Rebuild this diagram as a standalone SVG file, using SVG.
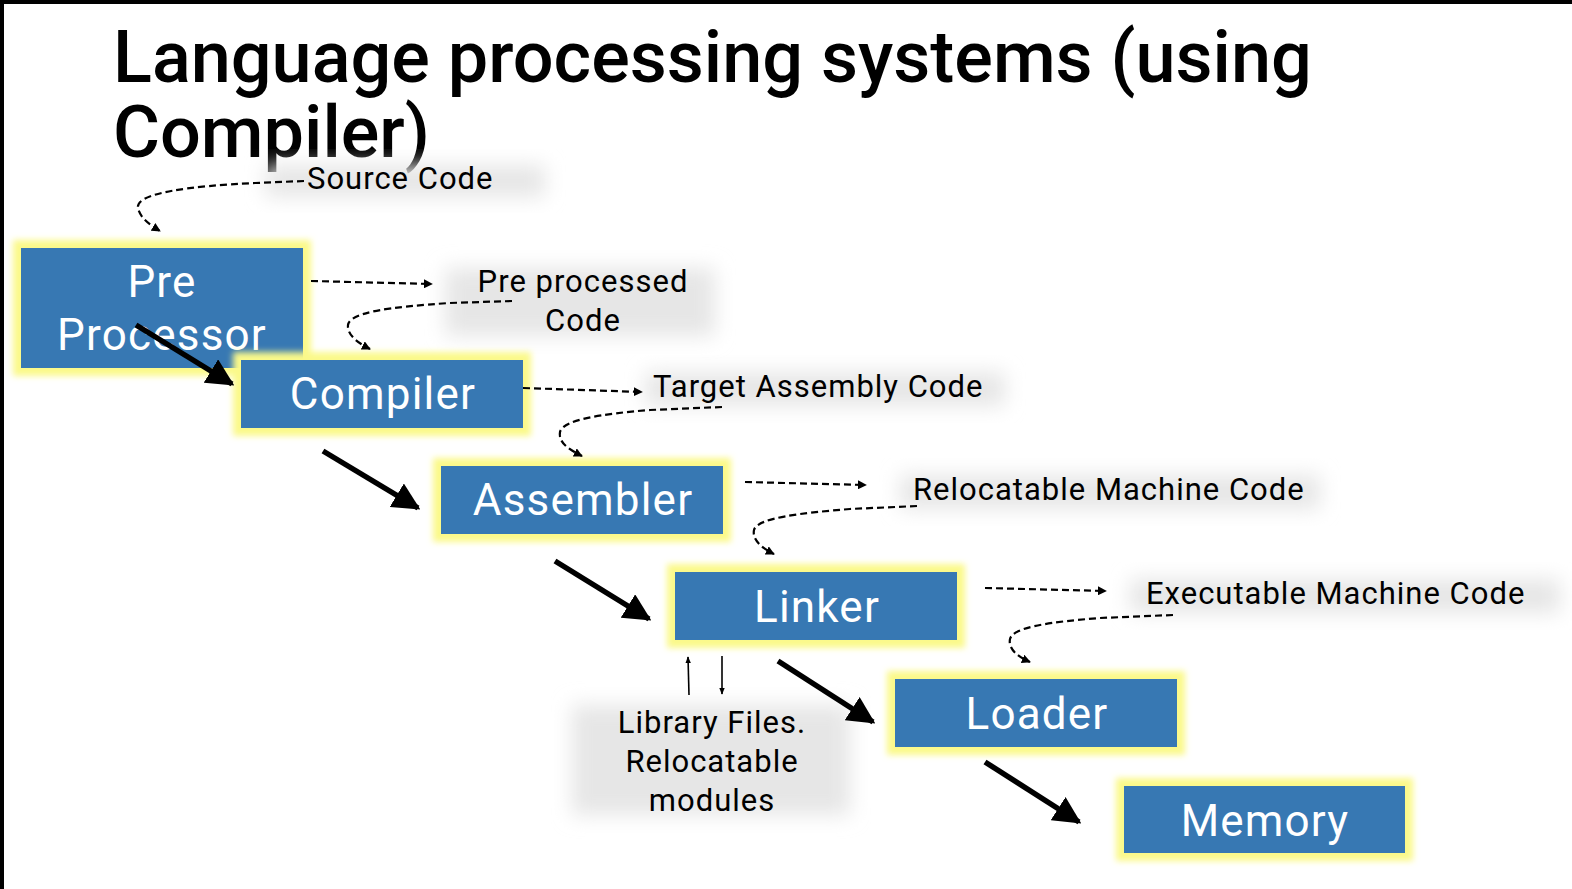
<svg xmlns="http://www.w3.org/2000/svg" width="1572" height="889" viewBox="0 0 1572 889">
<defs>
<filter id="glow" x="-20%" y="-40%" width="140%" height="180%"><feGaussianBlur stdDeviation="3"/></filter>
<filter id="shadow" x="-20%" y="-50%" width="140%" height="200%"><feGaussianBlur stdDeviation="10"/></filter>
<marker id="ah" viewBox="0 0 10 10" refX="9" refY="5" markerWidth="9" markerHeight="9" markerUnits="userSpaceOnUse" orient="auto"><path d="M0,0 L10,5 L0,10 z" fill="#000"/></marker>
<marker id="ahb" viewBox="0 0 10 10" refX="9" refY="5" markerWidth="5" markerHeight="5" orient="auto"><path d="M0,0 L10,5 L0,10 z" fill="#000"/></marker>
<marker id="aht" viewBox="0 0 10 10" refX="9" refY="5" markerWidth="7" markerHeight="9" markerUnits="userSpaceOnUse" orient="auto"><path d="M0,1 L10,5 L0,9 z" fill="#000"/></marker>
</defs>
<style>
.title{font-family:Roboto,"Liberation Sans",sans-serif;font-weight:500;font-size:72px;fill:#000}
.glow{fill:#fbf98a;filter:url(#glow)}
.box{fill:#3778b3}
.bt{font-family:Roboto,"Liberation Sans",sans-serif;font-size:44px;letter-spacing:1.2px;fill:#fff;text-anchor:middle}
.lbl{font-family:Roboto,"Liberation Sans",sans-serif;font-size:31px;letter-spacing:1px;fill:#000}
.shd{fill:#e6e6e6;filter:url(#shadow)}
.dash{fill:none;stroke:#000;stroke-width:2.2;stroke-dasharray:7 4;marker-end:url(#ah)}
.thick{fill:none;stroke:#000;stroke-width:5.5;marker-end:url(#ahb)}
.thin{fill:none;stroke:#000;stroke-width:1.6;marker-end:url(#aht)}
</style>
<rect width="1572" height="889" fill="#fff"/>
<rect x="0" y="0" width="1572" height="4" fill="#000"/>
<rect x="0" y="0" width="4" height="889" fill="#000"/>

<g id="title">
<text class="title" x="113" y="82">Language processing systems (using</text>
<text class="title" x="113" y="157">Compiler)</text>
</g>

<g id="label-shadows">
<rect class="shd" x="265" y="165" width="280" height="32"/>
<rect class="shd" x="445" y="268" width="270" height="68"/>
<rect class="shd" x="645" y="372" width="360" height="34"/>
<rect class="shd" x="900" y="475" width="420" height="34"/>
<rect class="shd" x="1130" y="579" width="430" height="34"/>
<rect class="shd" x="572" y="705" width="278" height="110"/>
</g>

<g id="node-preprocessor">
<rect class="glow" x="13" y="240" width="298" height="136"/>
<rect class="box" x="21" y="248" width="282" height="120"/>
<text class="bt" x="162" y="297">Pre</text>
<text class="bt" x="162" y="350">Processor</text>
</g>
<g id="node-compiler">
<rect class="glow" x="233" y="352" width="298" height="84"/>
<rect class="box" x="241" y="360" width="282" height="68"/>
<text class="bt" x="383" y="409">Compiler</text>
</g>
<g id="node-assembler">
<rect class="glow" x="433" y="458" width="298" height="84"/>
<rect class="box" x="441" y="466" width="282" height="68"/>
<text class="bt" x="583" y="515">Assembler</text>
</g>
<g id="node-linker">
<rect class="glow" x="667" y="564" width="298" height="84"/>
<rect class="box" x="675" y="572" width="282" height="68"/>
<text class="bt" x="817" y="622">Linker</text>
</g>
<g id="node-loader">
<rect class="glow" x="887" y="671" width="298" height="84"/>
<rect class="box" x="895" y="679" width="282" height="68"/>
<text class="bt" x="1037" y="729">Loader</text>
</g>
<g id="node-memory">
<rect class="glow" x="1116" y="778" width="297" height="83"/>
<rect class="box" x="1124" y="786" width="281" height="67"/>
<text class="bt" x="1265" y="836">Memory</text>
</g>

<g id="labels">
<text class="lbl" x="307" y="189">Source Code</text>
<text class="lbl" x="583" y="292" text-anchor="middle">Pre processed</text>
<text class="lbl" x="583" y="331" text-anchor="middle">Code</text>
<text class="lbl" x="653" y="397">Target Assembly Code</text>
<text class="lbl" x="913" y="500">Relocatable Machine Code</text>
<text class="lbl" x="1146" y="604">Executable Machine Code</text>
<text class="lbl" x="712" y="733" text-anchor="middle">Library Files.</text>
<text class="lbl" x="712" y="772" text-anchor="middle">Relocatable</text>
<text class="lbl" x="712" y="811" text-anchor="middle">modules</text>
</g>

<g id="connectors">
<path class="dash" d="M304,181 L255,183 C190,186 135,193 138,208 C140,218 150,225 160,231"/>
<path class="dash" d="M311,281 L432,284"/>
<path class="dash" d="M512,301 L450,303 C390,307 350,312 348,325 C347,335 358,343 370,349"/>
<path class="dash" d="M523,388 L642,392"/>
<path class="dash" d="M722,407 L650,410 C600,414 563,420 560,432 C558,443 570,450 582,456"/>
<path class="dash" d="M745,482 L866,485"/>
<path class="dash" d="M917,506 L850,509 C800,513 757,518 754,530 C752,540 762,548 774,554"/>
<path class="dash" d="M985,588 L1106,591"/>
<path class="dash" d="M1173,615 L1100,618 C1050,622 1013,627 1010,639 C1008,649 1018,657 1030,662"/>
<path class="thick" d="M136,325 L232,384"/>
<path class="thick" d="M323,451 L418,508"/>
<path class="thick" d="M555,561 L649,619"/>
<path class="thick" d="M778,661 L873,722"/>
<path class="thick" d="M985,762 L1079,822"/>
<path class="thin" d="M689,695 L688,657"/>
<path class="thin" d="M722,656 L722,694"/>
</g>
</svg>
